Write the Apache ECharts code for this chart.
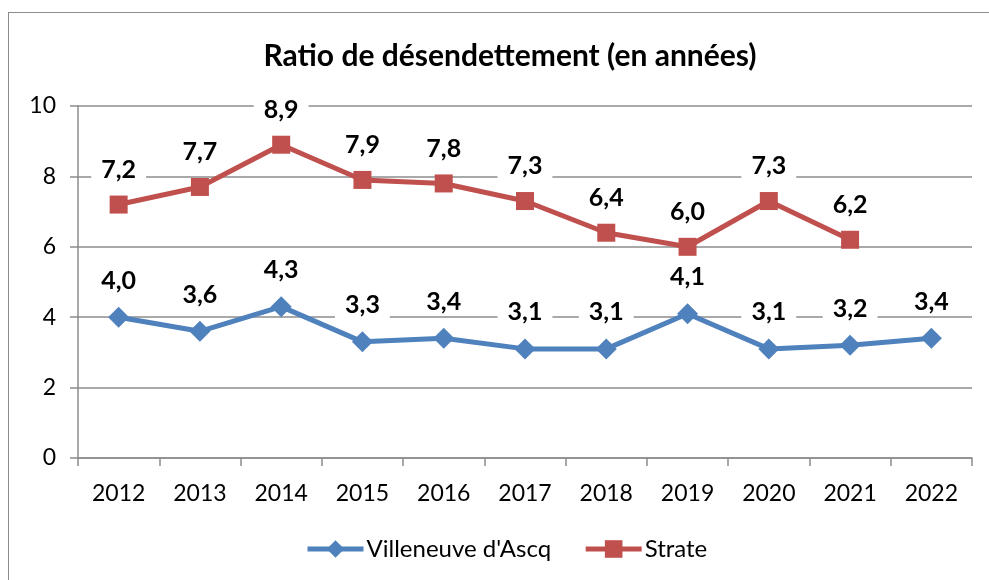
<!DOCTYPE html>
<html>
<head>
<meta charset="utf-8">
<script src="https://cdn.jsdelivr.net/npm/echarts@6/dist/echarts.min.js"></script>
<style>
  html, body { margin: 0; padding: 0; background: #fff; }
  #frame { position: absolute; left: 8px; top: 12px; width: 1000px; height: 600px; border: 1px solid #8c8c8c; box-sizing: border-box; }
  #chart { position: absolute; left: 0; top: 0; width: 989px; height: 580px; }
</style>
</head>
<body>
<div id="frame"></div>
<div id="chart"></div>
<script>
const years = ['2012', '2013', '2014', '2015', '2016', '2017', '2018', '2019', '2020', '2021', '2022'];
const villeneuve = [4.0, 3.6, 4.3, 3.3, 3.4, 3.1, 3.1, 4.1, 3.1, 3.2, 3.4];
const strate = [7.2, 7.7, 8.9, 7.9, 7.8, 7.3, 6.4, 6.0, 7.3, 6.2, null];
const yTicks = [0, 2, 4, 6, 8, 10];

const FONT = 'Lato, "Open Sans", sans-serif';
const fmt = p => p.value == null ? '' : p.value.toFixed(1).replace('.', ',');

const valueLabel = {
  show: true,
  position: 'top',
  distance: 13,
  formatter: fmt,
  fontFamily: FONT,
  fontWeight: 'bold',
  fontSize: 25,
  lineHeight: 26,
  color: '#000',
  backgroundColor: '#fff',
  padding: [1, 10, 0, 10]
};

const chart = echarts.init(document.getElementById('chart'), null, { renderer: 'canvas' });
chart.setOption({
  animation: false,
  backgroundColor: 'transparent',
  title: {
    text: 'Ratio de désendettement (en années)',
    left: 505,
    textAlign: 'center',
    top: 36,
    textStyle: { fontFamily: FONT, fontWeight: 'bold', fontSize: 30, color: '#000' }
  },
  legend: {
    bottom: 19,
    left: 305,
    padding: 0,
    itemWidth: 56,
    itemHeight: 22,
    itemGap: 32,
    lineStyle: { width: 5 },
    textStyle: { fontFamily: FONT, fontSize: 24, color: '#000', padding: [0, 0, 0, -2] },
    data: ["Villeneuve d'Ascq", 'Strate']
  },
  grid: { left: 78, right: 17, top: 106, bottom: 122 },
  xAxis: {
    type: 'category',
    data: years,
    boundaryGap: true,
    axisLine: { lineStyle: { color: '#8c8c8c', width: 1.5 } },
    axisTick: { show: true, length: 8, inside: false, alignWithLabel: false, lineStyle: { color: '#8c8c8c', width: 1.5 } },
    axisLabel: { fontFamily: FONT, fontSize: 23, color: '#000', margin: 24 }
  },
  yAxis: {
    type: 'value',
    min: yTicks[0],
    max: yTicks[yTicks.length - 1],
    interval: 2,
    axisLine: { show: true, lineStyle: { color: '#8c8c8c', width: 1.5 } },
    axisTick: { show: true, length: 8, lineStyle: { color: '#8c8c8c', width: 1.5 } },
    axisLabel: { fontFamily: FONT, fontSize: 23, color: '#000', margin: 22 },
    splitLine: { show: true, lineStyle: { color: '#8c8c8c', width: 1.5 } }
  },
  series: [
    {
      name: "Villeneuve d'Ascq",
      type: 'line',
      data: villeneuve,
      symbol: 'diamond',
      symbolSize: 21,
      lineStyle: { color: '#4f81bd', width: 5 },
      itemStyle: { color: '#4f81bd' },
      label: valueLabel,
      z: 3
    },
    {
      name: 'Strate',
      type: 'line',
      data: strate,
      symbol: 'rect',
      symbolSize: 18,
      connectNulls: false,
      lineStyle: { color: '#c0504d', width: 5 },
      itemStyle: { color: '#c0504d' },
      label: valueLabel,
      z: 3
    }
  ]
});
</script>
</body>
</html>
